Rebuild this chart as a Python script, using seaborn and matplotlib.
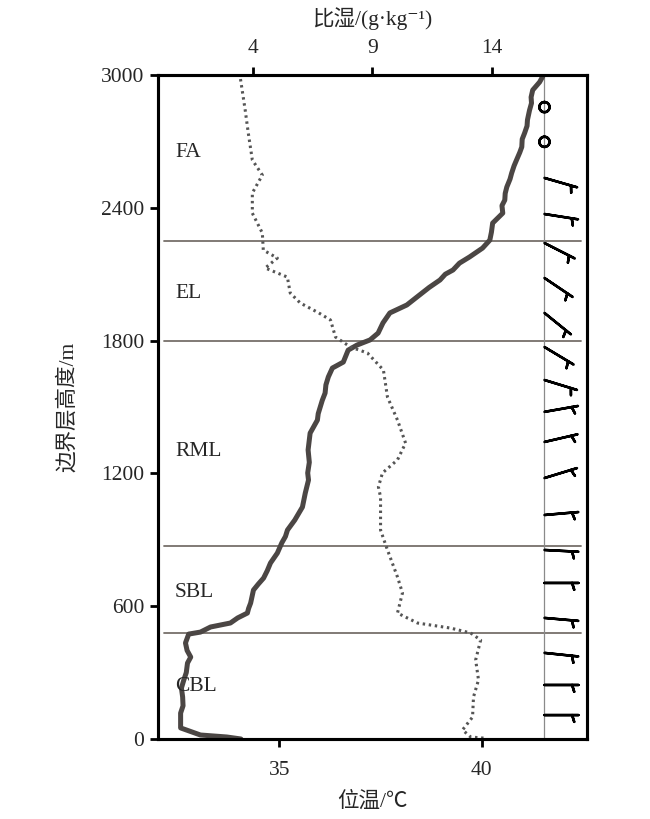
import numpy as np
import pandas as pd
import seaborn as sns
import matplotlib
import matplotlib.pyplot as plt

matplotlib.use('Agg')

# ---- data ----
theta_height = [0, 9, 18, 50, 117, 150, 190, 230, 267, 300, 343, 370, 400, 434, 474, 483, 506, 524, 547,
                569, 590, 614, 673, 700, 727, 760, 795, 840, 886, 915, 944, 989, 1048, 1111, 1170, 1202,
                1250, 1306, 1382, 1441, 1470, 1500, 1530, 1563, 1600, 1636, 1676, 1703, 1757, 1780, 1803,
                1834, 1880, 1925, 1961, 1997, 2040, 2074, 2100, 2119, 2150, 2178, 2218, 2254, 2290, 2331,
                2376, 2410, 2435, 2465, 2494, 2530, 2557, 2590, 2616, 2650, 2675, 2710, 2738, 2770, 2797,
                2840, 2873, 2900, 2932, 2968, 2991, 3000]
theta_value = [34.05, 33.7, 33.05, 32.56, 32.56, 32.62, 32.61, 32.58, 32.64, 32.70, 32.73, 32.81, 32.72,
               32.68, 32.76, 33.05, 33.30, 33.79, 33.97, 34.21, 34.24, 34.29, 34.36, 34.48, 34.61, 34.70,
               34.78, 34.95, 35.06, 35.15, 35.20, 35.38, 35.57, 35.64, 35.72, 35.70, 35.74, 35.71, 35.76,
               35.94, 35.96, 36.01, 36.06, 36.13, 36.15, 36.21, 36.31, 36.58, 36.70, 36.92, 37.24, 37.44,
               37.56, 37.73, 38.15, 38.40, 38.70, 38.97, 39.10, 39.29, 39.45, 39.70, 40.02, 40.20, 40.24,
               40.27, 40.52, 40.50, 40.57, 40.58, 40.62, 40.70, 40.74, 40.80, 40.86, 40.94, 40.99, 41.00,
               41.06, 41.12, 41.13, 41.18, 41.23, 41.22, 41.26, 41.43, 41.50, 41.52]

q_height = [4, 9, 41, 99, 190, 267, 357, 447, 479, 501, 524, 569, 660, 732, 854, 944, 1048, 1093, 1139,
            1202, 1261, 1337, 1441, 1545, 1667, 1744, 1771, 1816, 1893, 1925, 1970, 2015, 2087, 2128,
            2173, 2209, 2286, 2376, 2467, 2548, 2616, 2738, 2842, 2991, 3000]
q_value = [13.66, 13.12, 12.78, 13.20, 13.24, 13.45, 13.33, 13.54, 13.12, 12.28, 10.89, 10.05, 10.26,
           10.05, 9.63, 9.34, 9.34, 9.34, 9.25, 9.42, 10.05, 10.39, 10.05, 9.63, 9.46, 8.79, 8.08, 7.45,
           7.24, 6.75, 5.97, 5.55, 5.43, 4.50, 5.01, 4.42, 4.38, 3.96, 3.96, 4.38, 3.96, 3.79, 3.66, 3.45, 3.45]

wind_height = [108, 244, 389, 547, 705, 854, 1012, 1179, 1342, 1478, 1622, 1771, 1925, 2083, 2241,
               2372, 2535, 2698, 2855]
wind_dir = [90, 90, 96, 95, 90, 93, 85, 73, 77, 80, 107, 121, 129, 124, 117, 99, 106, 0, 0]
wind_speed = [5, 5, 5, 5, 5, 5, 5, 5, 5, 5, 5, 5, 5, 5, 5, 5, 5, 0, 0]

layer_lines = [480, 870, 1800, 2250]
layer_names = ['CBL', 'SBL', 'RML', 'EL', 'FA']
layer_label_height = [235, 660, 1297, 2015, 2650]

SERIF = ['Liberation Serif', 'Noto Sans CJK SC', 'DejaVu Serif']
FS = 15.5

sns.set_theme(style='ticks')
plt.rcParams['font.family'] = SERIF
plt.rcParams['font.size'] = FS

theta_df = pd.DataFrame({'theta': theta_value, 'height': theta_height})
q_df = pd.DataFrame({'q': q_value, 'height': q_height})

fig = plt.figure(figsize=(6.5, 8.19), dpi=100)
ax = fig.add_axes([0.243, 0.0977, 0.66, 0.8107])

sns.lineplot(data=theta_df, x='theta', y='height', sort=False, estimator=None,
             color='#4b4644', linewidth=3.6, ax=ax)

for h in layer_lines:
    ax.axhline(h, xmin=0.015, xmax=0.985, color='#76706a', linewidth=1.3, zorder=1)

ax.axvline(41.55, color='#8a8a8a', linewidth=0.9, zorder=1)

rad = np.deg2rad(wind_dir)
u = -np.array(wind_speed) * np.sin(rad)
v = -np.array(wind_speed) * np.cos(rad)
ax.barbs([41.55] * len(wind_height), wind_height, u, v, length=7, linewidth=1.8,
         color='black', zorder=4)

for name, h in zip(layer_names, layer_label_height):
    ax.text(32.42, h, name, fontsize=FS, va='center', ha='left', family=SERIF)

ax.set_xlim(32.0, 42.6)
ax.set_ylim(0, 3000)
ax.set_xticks([35, 40])
ax.set_yticks([0, 600, 1200, 1800, 2400, 3000])
ax.set_xlabel('位温/℃', fontsize=FS, family=SERIF, labelpad=8)
ax.set_ylabel('边界层高度/m', fontsize=FS, family=SERIF, labelpad=16)

ax2 = ax.twiny()
sns.lineplot(data=q_df, x='q', y='height', sort=False, estimator=None,
             color='#555555', linewidth=2.2, linestyle=(0, (0.8, 1.2)), ax=ax2)
ax2.set_xlim(0, 18)
ax2.set_xticks([4, 9, 14])
ax2.set_xlabel('比湿/(g·kg⁻¹)', fontsize=FS, family=SERIF, labelpad=10)
ax2.set_ylim(0, 3000)

for a in (ax, ax2):
    for s in a.spines.values():
        s.set_linewidth(2.2)
        s.set_color('black')
    a.tick_params(width=2, length=6, labelsize=FS, color='black')
ax.tick_params(axis='y', pad=4)
ax.tick_params(axis='x', pad=10)
ax2.tick_params(axis='x', pad=6)

fig.savefig('out.png', dpi=100)
plt.close('all')
